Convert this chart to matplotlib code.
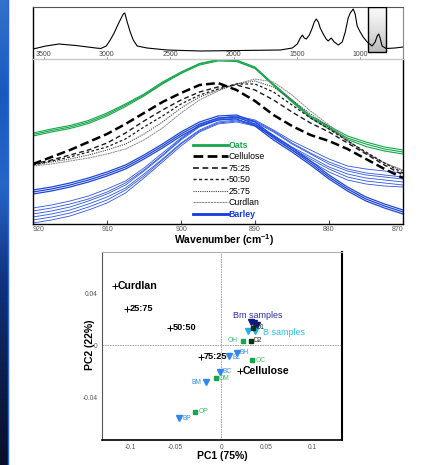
import numpy as np
import matplotlib
matplotlib.use("Agg")
import matplotlib.pyplot as plt
from matplotlib.lines import Line2D
from matplotlib.patches import Rectangle

plt.rcParams['font.family'] = ['Liberation Sans', 'DejaVu Sans']
plt.rcParams['mathtext.fontset'] = 'custom'
plt.rcParams['mathtext.rm'] = 'Liberation Sans'
plt.rcParams['mathtext.bf'] = 'Liberation Sans:bold'

# ---------------- data: overview spectrum (inset) ----------------
overview_wn = [3584, 3482, 3379, 3245, 3088, 3048, 3005, 2974, 2943, 2918, 2895, 2871, 2859,
               2840, 2816, 2792, 2761, 2683, 2526, 2260, 1945, 1630, 1536, 1496, 1472, 1456,
               1441, 1425, 1401, 1378, 1362, 1346, 1330, 1315, 1291, 1268, 1252, 1228, 1204,
               1172, 1141, 1117, 1094, 1078, 1054, 1039, 1023, 999, 976, 944, 905, 881, 865,
               853, 842, 826, 795, 724, 661]
overview_abs = [10, 13, 15, 13.5, 11, 10.5, 13, 19, 26, 33, 39, 45, 46,
                37, 27, 19, 13, 11, 9, 8, 8.5, 9, 11, 15, 21, 24,
                21, 20, 24, 31, 37, 40, 37, 31, 25, 20, 18, 21, 17,
                14, 17, 27, 41, 46, 50, 45, 33, 27, 22, 17, 13, 17, 23,
                25, 21, 13, 10.5, 11, 12]
overview_ticks = [3500, 3000, 2500, 2000, 1500, 1000]
zoom_window = [936, 795]

# ---------------- data: zoomed spectra 920-870 cm-1 ----------------
wavenumber = [920.0, 917.5, 915.0, 912.5, 910.0, 907.5, 905.0, 902.5, 900.0, 897.5, 895.0,
              892.5, 890.0, 887.5, 885.0, 882.5, 880.0, 877.5, 875.0, 872.5, 870.0]

oats_1 = [91, 95, 98.5, 103.5, 111, 120, 130, 142, 152, 160.5, 164.5, 164, 157, 140, 124, 108, 98, 88, 82, 77, 74]
oats_2 = [88, 92, 95.5, 100.5, 108, 117.5, 128, 140, 150.5, 159, 163, 162.5, 155.5, 138.5, 122, 106, 95, 84.5, 77.5, 73, 70]
oats_3 = [89.5, 93.5, 97, 102, 109.5, 119, 129, 141, 151, 160, 164, 163.5, 156, 139, 123, 107, 96.5, 86, 80, 75, 72]

cellulose = [60, 67, 74, 82, 90, 100, 111, 122, 131, 139, 141, 134, 123, 109, 98, 89, 83, 75, 65, 55, 46]
mix_75_25 = [60, 64, 69, 74, 81, 91, 103, 114, 124, 132, 137, 139, 134, 124, 112, 101, 92, 81, 70, 59, 49]
mix_50_50 = [59, 63, 67, 72, 77, 85, 97, 108, 120, 129, 135, 140, 140, 132, 119, 106, 95, 83, 72, 61, 51]
mix_25_75 = [59, 62, 65, 69, 74, 80, 90, 102, 116, 127, 134, 140, 143, 137, 124, 110, 97, 83, 71, 61, 53]
curdlan = [58, 60, 63, 66, 70, 75, 84, 96, 111, 124, 133, 140, 145, 142, 129, 113, 99, 84, 71, 61, 54]

barley_a1 = [32, 35, 39, 44, 50, 57, 67, 78, 90, 100, 106, 107, 100, 86, 74, 61, 47, 35, 25, 18, 12]
barley_a2 = [34, 37, 41, 46, 52, 59, 69, 80, 92, 102, 108, 109, 102, 88, 76, 63, 49, 37, 27, 20, 14]
barley_a3 = [30, 33, 37, 42, 48, 55, 65, 76, 88, 98, 104, 105, 98, 84, 72, 59, 45, 33, 23, 16, 10]
barley_b1 = [16, 19, 23, 28, 35, 43, 56, 71, 86, 99, 106, 108, 104, 94, 83, 74, 65, 58, 55, 53, 51]
barley_b2 = [13, 16, 20, 25, 32, 41, 54, 69, 85, 98, 105, 107, 103, 93, 81, 71, 62, 55, 51, 49, 47]
barley_b3 = [10, 13, 17, 23, 30, 39, 53, 68, 84, 97, 104, 106, 102, 92, 80, 70, 60, 53, 49, 47, 45]
barley_b4 = [7, 10, 14, 20, 27, 36, 50, 65, 81, 94, 102, 104, 100, 89, 77, 67, 57, 50, 46, 44, 42]
barley_b5 = [4, 7, 11, 17, 24, 34, 48, 64, 80, 93, 101, 103, 99, 88, 76, 65, 55, 47, 43, 41, 39]
barley_b6 = [1, 4, 8, 14, 21, 31, 46, 62, 78, 92, 100, 102, 98, 87, 74, 63, 52, 44, 40, 38, 37]

zoom_ticks = [920, 910, 900, 890, 880, 870]
legend_labels = ['Oats', 'Cellulose', '75:25', '50:50', '25:75', 'Curdlan', 'Barley']

# ---------------- data: PCA scores ----------------
ref_labels = ['Curdlan', '25:75', '50:50', '75:25', 'Cellulose']
ref_pc1 = [-0.1165, -0.1033, -0.0560, -0.0220, 0.0209]
ref_pc2 = [0.0458, 0.0281, 0.0135, -0.0088, -0.0196]

b_labels = ['BP', 'BM', 'BC', 'BL', 'BH']
b_pc1 = [-0.0458, -0.0168, -0.0011, 0.0091, 0.0172]
b_pc2 = [-0.0560, -0.0283, -0.0201, -0.0078, -0.0060]

o_labels = ['OP', 'OM', 'OC', 'OH']
o_pc1 = [-0.0286, -0.0055, 0.0344, 0.0245]
o_pc2 = [-0.0514, -0.0252, -0.0112, 0.0035]

od_labels = ['O1', 'D2']
od_pc1 = [0.0355, 0.0330]
od_pc2 = [0.0137, 0.0037]

bm_pc1 = [0.0326, 0.0363, 0.0392]
bm_pc2 = [0.0181, 0.0173, 0.0158]

bs_pc1 = [0.0293, 0.0374]
bs_pc2 = [0.0114, 0.0112]

pc_xticks = [-0.1, -0.05, 0, 0.05, 0.1]
pc_yticks = [-0.04, 0, 0.04]

# ---------------- figure ----------------
W, H = 427, 465
fig = plt.figure(figsize=(W / 100, H / 100), dpi=100)


def box(x0, y0, x1, y1):
    return [x0 / W, 1 - y1 / H, (x1 - x0) / W, (y1 - y0) / H]


# decorative blue strip on the left
strip = fig.add_axes(box(0, 0, 7.5, H))
stops = np.array([[0.20, 0.45, 0.80], [0.10, 0.35, 0.75], [0.15, 0.40, 0.78],
                  [0.06, 0.20, 0.50], [0.05, 0.12, 0.30], [0.03, 0.06, 0.16]])
pos = np.linspace(0, 1, len(stops))
t = np.linspace(0, 1, 300)
img = np.stack([np.interp(t, pos, stops[:, c]) for c in range(3)], axis=1)[:, None, :]
strip.imshow(img, aspect='auto', extent=[0, 1, 0, 1])
strip.axis('off')
fig.add_artist(Line2D([7.8 / W, 7.8 / W], [0, 1], color='#2a62ff', lw=1.0))

GREEN = '#16a64c'
BLUE = '#1f47d8'

# ---------------- inset overview spectrum ----------------
ax_in = fig.add_axes(box(33, 7, 403, 59))
grad = np.linspace(0.05, 0.38, 100)[:, None]
ax_in.imshow(grad, cmap='Greys', vmin=0, vmax=1, aspect='auto',
             extent=[zoom_window[0], zoom_window[1], 7, 52], origin='upper', zorder=1)
ax_in.add_patch(Rectangle((zoom_window[1], 7), zoom_window[0] - zoom_window[1], 45,
                          fill=False, ec='black', lw=1.0, zorder=3))
ax_in.plot(overview_wn, overview_abs, color='black', lw=0.8, zorder=2)
ax_in.set_xlim(3584, 661)
ax_in.set_ylim(0, 52)
ax_in.set_xticks(overview_ticks)
ax_in.set_xticklabels([str(v) for v in overview_ticks])
ax_in.tick_params(axis='x', direction='in', pad=-5.5, labelsize=5, length=1.5,
                  width=0.5, colors='#444444')
ax_in.set_yticks([])
ax_in.spines['left'].set_color('black')
ax_in.spines['left'].set_linewidth(1.0)
ax_in.spines['top'].set_color('#555555')
ax_in.spines['top'].set_linewidth(0.8)
ax_in.spines['right'].set_color('#888888')
ax_in.spines['right'].set_linewidth(0.8)
ax_in.spines['bottom'].set_visible(False)

# ---------------- zoomed spectra ----------------
ax = fig.add_axes(box(33, 59, 403, 224))
for s in [barley_b1, barley_b2, barley_b3, barley_b4, barley_b5, barley_b6]:
    ax.plot(wavenumber, s, color='#2c55e6', lw=0.6)
for s in [barley_a1, barley_a2, barley_a3]:
    ax.plot(wavenumber, s, color=BLUE, lw=0.9)
for s in [oats_1, oats_2, oats_3]:
    ax.plot(wavenumber, s, color=GREEN, lw=0.8)

styles = {
    'Cellulose': dict(color='black', lw=1.8, dashes=(3.5, 1.6)),
    '75:25': dict(color='#1a1a1a', lw=1.0, dashes=(3.5, 2.2)),
    '50:50': dict(color='#1a1a1a', lw=0.9, dashes=(2.2, 1.8)),
    '25:75': dict(color='#444444', lw=0.8, dashes=(1.0, 1.0)),
    'Curdlan': dict(color='#8a8a8a', lw=0.7, dashes=(2.0, 0.6)),
}
for name, s in [('Curdlan', curdlan), ('25:75', mix_25_75), ('50:50', mix_50_50),
                ('75:25', mix_75_25), ('Cellulose', cellulose)]:
    ax.plot(wavenumber, s, **styles[name])

ax.set_xlim(920, 870)
ax.set_ylim(0, 165)
ax.set_yticks([])
ax.set_xticks(zoom_ticks)
ax.set_xticklabels([str(v) for v in zoom_ticks])
ax.tick_params(axis='x', direction='in', length=3, width=0.8, color=BLUE,
               labelsize=5, labelcolor='#555555', pad=1.5)
xt = ax.get_xticklabels()
xt[0].set_ha('left')
xt[-1].set_ha('right')
for sp in ['left', 'bottom', 'right']:
    ax.spines[sp].set_color('black')
    ax.spines[sp].set_linewidth(1.0)
ax.spines['top'].set_color('#c8c8c8')
ax.spines['top'].set_linewidth(1.0)
ax.set_xlabel(r'Wavenumber (cm$^{\mathbf{-1}}$)', fontsize=7.5, fontweight='bold')
ax.xaxis.set_label_coords(0.515, -0.05)

handles = [
    Line2D([], [], color=GREEN, lw=2.0),
    Line2D([], [], **dict(styles['Cellulose'], lw=2.0)),
    Line2D([], [], **dict(styles['75:25'], lw=1.2)),
    Line2D([], [], **dict(styles['50:50'], lw=1.0)),
    Line2D([], [], **styles['25:75']),
    Line2D([], [], **dict(styles['Curdlan'], lw=0.8)),
    Line2D([], [], color='#1238e0', lw=2.0),
]
leg = fig.legend(handles, legend_labels, loc='upper left',
                 bbox_to_anchor=(193 / W, 1 - 141 / H), frameon=False,
                 fontsize=6.3, handlelength=4.0, handletextpad=0.05,
                 labelspacing=0.28, borderpad=0, borderaxespad=0)
for txt in leg.get_texts():
    if txt.get_text() == 'Oats':
        txt.set_color(GREEN)
        txt.set_fontweight('bold')
    elif txt.get_text() == 'Barley':
        txt.set_color('#1238e0')
        txt.set_fontweight('bold')

# ---------------- PCA scores ----------------
ap = fig.add_axes(box(102, 252, 342, 440))
ap.set_xlim(-0.131, 0.133)
ap.set_ylim(-0.0727, 0.0719)
ap.axhline(0, color='#9a9a9a', lw=0.6, ls=(0, (2, 1)), zorder=0)
ap.axvline(0, color='#9a9a9a', lw=0.6, ls=(0, (2, 1)), zorder=0)

ap.plot(ref_pc1, ref_pc2, ls='none', marker='+', color='black', ms=5, mew=0.7)
for lab, x, y in zip(ref_labels, ref_pc1, ref_pc2):
    big = lab in ('Curdlan', 'Cellulose')
    ap.annotate(lab, (x, y), xytext=(2, 0), textcoords='offset points',
                ha='left', va='center', fontsize=7.6 if big else 6.6,
                fontweight='bold', color='black')

BCOL = '#2f86f0'
OCOL = '#12a84a'
ap.plot(b_pc1, b_pc2, ls='none', marker='v', color=BCOL, ms=4)
b_off = {'BP': (2.5, 0, 'left'), 'BM': (-3, 0, 'right'), 'BC': (2, 0, 'left'),
         'BL': (2, -1.5, 'left'), 'BH': (2, 0.5, 'left')}
for lab, x, y in zip(b_labels, b_pc1, b_pc2):
    dx, dy, ha = b_off[lab]
    ap.annotate(lab, (x, y), xytext=(dx, dy), textcoords='offset points',
                ha=ha, va='center', fontsize=4.8, color='#3a90ee')

ap.plot(o_pc1, o_pc2, ls='none', marker='s', color=OCOL, ms=3.3)
o_off = {'OP': (2.5, 0.5, 'left'), 'OM': (2, 0, 'left'), 'OC': (2, 0, 'left'),
         'OH': (-4, 0, 'right')}
for lab, x, y in zip(o_labels, o_pc1, o_pc2):
    dx, dy, ha = o_off[lab]
    ap.annotate(lab, (x, y), xytext=(dx, dy), textcoords='offset points',
                ha=ha, va='center', fontsize=4.8, color='#3cc46a')

ap.plot(bm_pc1, bm_pc2, ls='none', marker='v', color='#101880', ms=4.5)
ap.plot(bs_pc1, bs_pc2, ls='none', marker='v', color='#22b0f0', ms=4.2)
ap.plot(od_pc1, od_pc2, ls='none', marker='s', color='#0c3010', ms=3.3)
for lab, x, y in zip(od_labels, od_pc1, od_pc2):
    ap.annotate(lab, (x, y), xytext=(1.8, 0), textcoords='offset points',
                ha='left', va='center', fontsize=4.8, color='#1a2a1a')

ap.text(0.0132, 0.0227, 'Bm samples', fontsize=6.5, color='#2e2ea8',
        ha='left', va='center')
ap.text(0.0462, 0.0096, 'B samples', fontsize=6.5, color='#2cc0f2',
        ha='left', va='center')

ap.set_xticks(pc_xticks)
ap.set_xticklabels(['-0.1', '-0.05', '0', '0.05', '0.1'])
ap.set_yticks(pc_yticks)
ap.set_yticklabels(['-0.04', '0', '0.04'])
ap.tick_params(length=0, labelsize=4.8, labelcolor='#555555', pad=3)
ap.spines['left'].set_color('#555555')
ap.spines['left'].set_linewidth(0.8)
ap.spines['bottom'].set_color('black')
ap.spines['bottom'].set_linewidth(1.2)
ap.spines['right'].set_color('black')
ap.spines['right'].set_linewidth(1.5)
ap.spines['top'].set_color('#b0b0b0')
ap.spines['top'].set_linewidth(0.8)
ap.set_xlabel('PC1 (75%)', fontsize=7.5, fontweight='bold')
ap.xaxis.set_label_coords(0.5, -0.058)
ap.set_ylabel('PC2 (22%)', fontsize=7.5, fontweight='bold')
ap.yaxis.set_label_coords(-0.029, 0.505)

fig.savefig('out.png', dpi=100)
